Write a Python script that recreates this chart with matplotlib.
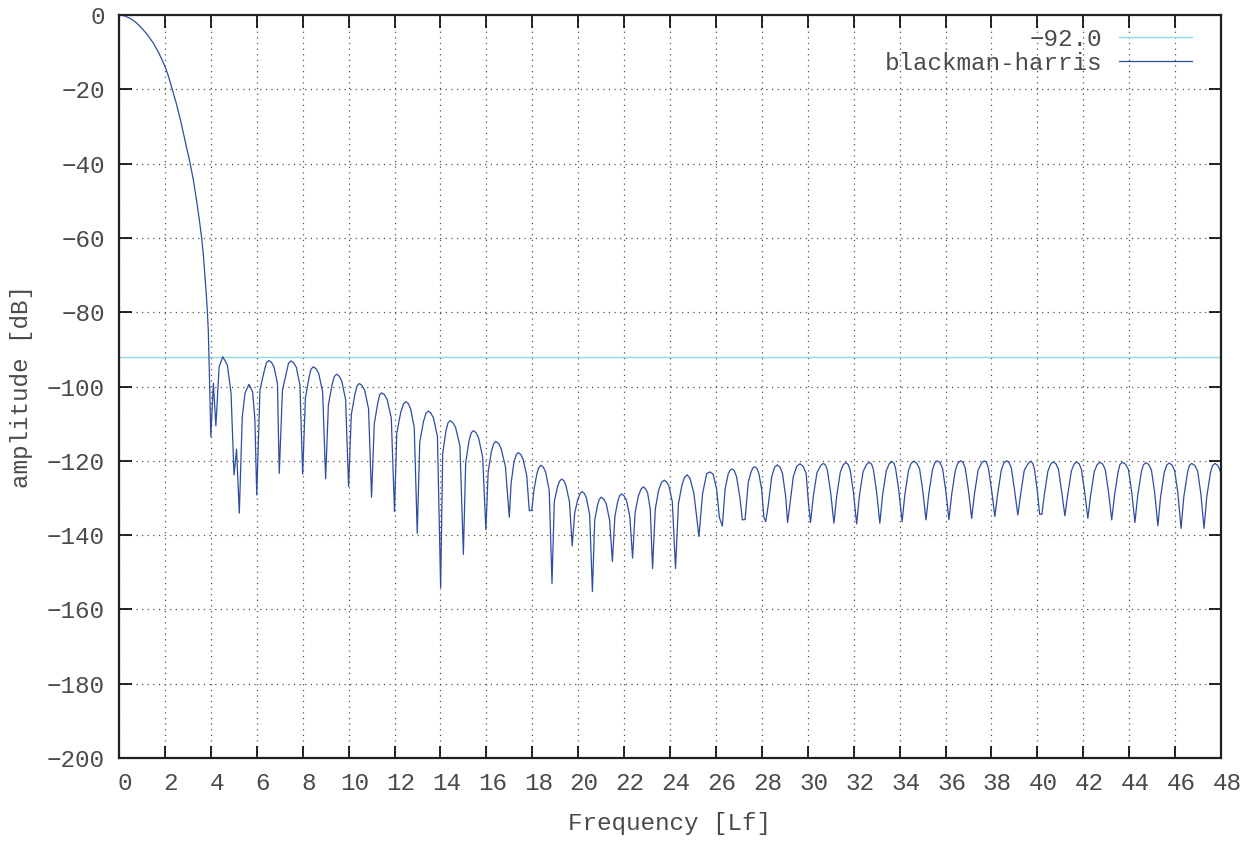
import matplotlib
matplotlib.use("Agg")
import matplotlib.pyplot as plt
import matplotlib.transforms as mtransforms

# values (frequency in Lf, amplitude in dB)
threshold_db = -92.0

main_lobe = [
    (0.0, 0.0), (0.25, -0.25), (0.5, -0.95), (0.75, -2.05), (1.0, -3.6),
    (1.25, -5.4), (1.5, -7.6), (1.75, -10.4), (2.0, -13.8), (2.16, -16.6),
    (2.32, -20.0), (2.5, -23.9), (2.7, -28.9), (2.9, -34.4), (3.1, -40.0),
    (3.25, -44.8), (3.38, -50.0), (3.5, -55.2), (3.6, -60.0), (3.68, -65.0),
    (3.74, -70.0), (3.8, -75.0), (3.85, -80.0), (3.89, -85.0), (3.92, -92.0),
    (3.95, -100.0), (4.0, -113.5),
]

sidelobes = [
    (4.11, -99.1), (4.22, -110.6), (4.36, -94.7), (4.52, -92.0), (4.72, -94.2),
    (4.88, -101.8), (5.01, -123.8), (5.12, -116.9), (5.24, -134.1), (5.37, -108.1),
    (5.49, -101.8), (5.66, -99.4), (5.82, -101.4), (5.92, -109.0), (6.0, -129.2),
    (6.14, -100.9), (6.32, -96.0), (6.42, -93.6), (6.53, -93.0), (6.64, -93.5),
    (6.75, -94.7), (6.9, -99.1), (6.98, -123.4),
    (7.12, -101.0), (7.3, -96.0), (7.38, -93.8), (7.49, -93.1), (7.61, -93.6), (7.72, -94.8), (7.88, -99.5), (8.0, -123.6),
    (8.12, -103.0), (8.28, -97.5), (8.36, -95.4), (8.46, -94.7), (8.58, -95.2), (8.7, -96.5), (8.87, -101.5), (9.0, -124.8),
    (9.12, -105.0), (9.28, -99.5), (9.38, -97.3), (9.48, -96.7), (9.59, -97.2), (9.7, -98.5), (9.87, -103.5), (10.0, -126.9),
    (10.12, -107.5), (10.28, -102.0), (10.37, -99.8), (10.47, -99.2), (10.58, -99.7), (10.7, -101.0), (10.87, -106.0), (11.0, -129.8),
    (11.12, -110.0), (11.27, -104.5), (11.35, -102.3), (11.44, -101.7), (11.56, -102.2), (11.68, -103.5), (11.86, -108.5), (12.0, -133.7),
    (12.1, -112.5), (12.27, -107.0), (12.39, -104.7), (12.5, -104.1), (12.6, -104.6), (12.7, -106.0), (12.86, -111.0), (12.99, -139.5),
    (13.1, -115.0), (13.26, -109.5), (13.37, -107.2), (13.47, -106.6), (13.58, -107.1), (13.7, -108.5), (13.87, -113.5), (14.01, -154.1),
    (14.1, -118.0), (14.24, -112.0), (14.33, -109.8), (14.42, -109.2), (14.54, -109.7), (14.66, -111.0), (14.85, -116.0), (15.0, -145.2),
    (15.1, -120.5), (15.25, -114.5), (15.34, -112.5), (15.43, -111.9), (15.55, -112.4), (15.66, -113.8), (15.84, -119.0), (15.98, -138.6),
    (16.08, -123.0), (16.22, -117.5), (16.32, -115.4), (16.41, -114.8), (16.53, -115.3), (16.64, -116.6), (16.83, -121.5), (17.0, -135.2),
    (17.08, -126.0), (17.2, -120.5), (17.3, -118.4), (17.39, -117.8), (17.5, -118.3), (17.6, -119.6), (17.76, -124.0), (17.87, -133.4), (17.98, -133.4),
    (18.07, -128.0), (18.2, -123.5), (18.29, -121.8), (18.38, -121.2), (18.48, -121.7), (18.58, -123.0), (18.74, -128.0), (18.86, -153.0),
    (18.96, -131.0), (19.1, -127.0), (19.19, -125.5), (19.28, -124.9), (19.38, -125.4), (19.47, -126.7), (19.62, -131.0), (19.74, -142.9),
    (19.85, -134.0), (19.98, -130.5), (20.08, -128.9), (20.17, -128.3), (20.27, -128.8), (20.36, -130.0), (20.5, -134.5), (20.62, -155.2),
    (20.72, -136.0), (20.84, -132.0), (20.92, -130.4), (21.0, -129.8), (21.11, -130.3), (21.22, -131.5), (21.37, -136.0), (21.49, -147.1),
    (21.6, -135.0), (21.72, -131.0), (21.8, -129.5), (21.88, -128.9), (21.99, -129.4), (22.1, -130.5), (22.25, -135.0), (22.37, -146.2),
    (22.48, -134.0), (22.62, -129.5), (22.74, -127.6), (22.84, -127.0), (22.93, -127.5), (23.02, -128.5), (23.14, -133.0), (23.24, -149.0),
    (23.36, -133.0), (23.5, -128.0), (23.63, -125.8), (23.75, -125.2), (23.85, -125.7), (23.95, -126.7), (24.1, -131.0), (24.24, -149.0),
    (24.37, -131.5), (24.52, -126.5), (24.64, -124.4), (24.75, -123.8), (24.87, -124.7), (25.04, -128.7), (25.26, -140.4),
    (25.42, -128.8), (25.6, -123.4), (25.74, -123.0), (25.88, -123.6), (26.03, -127.6), (26.15, -135.2), (26.28, -137.6),
    (26.4, -127.6), (26.54, -123.4), (26.62, -122.5), (26.71, -122.2), (26.8, -122.7), (26.9, -124.3), (27.05, -130.1), (27.15, -135.9), (27.27, -135.8),
    (27.41, -125.8), (27.53, -123.0), (27.61, -121.9), (27.7, -121.6), (27.79, -122.1), (27.87, -123.4), (27.99, -127.6), (28.09, -135.2), (28.17, -136.4),
    (28.28, -131.9), (28.43, -124.3), (28.55, -121.8), (28.67, -121.1), (28.79, -121.7), (28.9, -123.4), (29.04, -129.7), (29.12, -136.6),
    (29.22, -131.9), (29.37, -124.3), (29.52, -121.5), (29.66, -120.8), (29.8, -121.5), (29.93, -123.4), (30.02, -130.6), (30.12, -136.6),
    (30.24, -129.7), (30.40, -123.2), (30.56, -121.3), (30.68, -120.7), (30.78, -121.2), (30.86, -122.7), (31.00, -128.7), (31.14, -136.8),
    (31.26, -129.5), (31.42, -123.0), (31.54, -121.1), (31.66, -120.5), (31.76, -121.0), (31.85, -122.5), (31.99, -128.5), (32.13, -137.0),
    (32.25, -129.4), (32.41, -122.9), (32.56, -121.0), (32.68, -120.4), (32.78, -120.9), (32.86, -122.4), (33.00, -128.4), (33.14, -136.8),
    (33.26, -129.2), (33.42, -122.7), (33.55, -120.8), (33.67, -120.2), (33.76, -120.7), (33.83, -122.2), (33.97, -128.2), (34.11, -136.4),
    (34.23, -129.1), (34.39, -122.6), (34.5, -120.7), (34.62, -120.1), (34.74, -120.6), (34.87, -122.1), (35.01, -128.1), (35.15, -135.9),
    (35.27, -129.0), (35.43, -122.5), (35.53, -120.6), (35.64, -120.0), (35.76, -120.5), (35.87, -122.0), (36.01, -128.0), (36.15, -135.8),
    (36.27, -129.0), (36.43, -122.5), (36.54, -120.6), (36.66, -120.0), (36.77, -120.5), (36.86, -122.0), (37.00, -128.0), (37.14, -135.5),
    (37.26, -129.0), (37.42, -122.5), (37.57, -120.6), (37.69, -120.0), (37.79, -120.5), (37.87, -122.0), (38.01, -128.0), (38.15, -135.0),
    (38.27, -129.0), (38.43, -122.5), (38.54, -120.6), (38.66, -120.0), (38.77, -120.5), (38.87, -122.0), (39.01, -128.0), (39.15, -134.6),
    (39.27, -129.1), (39.43, -122.6), (39.6, -120.7), (39.72, -120.1), (39.8, -120.7), (39.87, -122.1), (40.0, -128.1), (40.1, -134.4), (40.2, -134.4),
    (40.3, -129.3), (40.46, -122.8), (40.58, -120.9), (40.69, -120.3), (40.81, -120.8), (40.92, -122.3), (41.06, -128.3), (41.2, -134.8),
    (41.32, -129.3), (41.48, -122.8), (41.6, -120.9), (41.71, -120.3), (41.82, -120.8), (41.92, -122.3), (42.06, -128.3), (42.2, -135.5),
    (42.32, -129.4), (42.48, -122.9), (42.61, -121.0), (42.73, -120.4), (42.85, -120.9), (42.96, -122.4), (43.10, -128.4), (43.24, -135.9),
    (43.36, -129.4), (43.52, -122.9), (43.6, -121.0), (43.71, -120.4), (43.84, -120.9), (43.97, -122.4), (44.11, -128.4), (44.25, -136.6),
    (44.37, -129.5), (44.53, -123.0), (44.62, -121.1), (44.73, -120.5), (44.85, -121.0), (44.97, -122.5), (45.11, -128.5), (45.25, -137.5),
    (45.37, -129.6), (45.53, -123.1), (45.63, -121.2), (45.74, -120.6), (45.86, -121.1), (45.98, -122.6), (46.12, -128.6), (46.26, -138.2),
    (46.38, -129.7), (46.54, -123.2), (46.62, -121.3), (46.72, -120.7), (46.85, -121.2), (46.98, -122.7), (47.12, -128.7), (47.26, -138.2),
    (47.38, -129.7), (47.54, -123.2), (47.63, -121.3), (47.74, -120.7), (47.85, -121.2), (47.92, -122.0), (48.0, -123.4),
]

x_ticks = list(range(0, 49, 2))
y_ticks = list(range(-200, 1, 20))

freq = [p[0] for p in main_lobe + sidelobes]
amp = [p[1] for p in main_lobe + sidelobes]

plt.rcParams['font.family'] = ['Liberation Mono', 'DejaVu Sans Mono']
plt.rcParams['font.size'] = 17.5
text_col = '#4a4a4a'

fig = plt.figure(figsize=(12.53, 8.41), dpi=100)
ax = fig.add_axes([119 / 1253, 83 / 841, 1102 / 1253, 743 / 841])

ax.axhline(threshold_db, color='#8adbe6', lw=1.0, label='\u221292.0')
ax.plot(freq, amp, color='#2d4da3', lw=0.9, label='blackman-harris')

ax.set_xlim(0, 48)
ax.set_ylim(-200, 0)
ax.set_xticks(x_ticks)
ax.set_yticks(y_ticks)
ax.grid(True, color='#505050', lw=0.9, linestyle=(0, (1, 3.5)))
ax.tick_params(direction='in', length=9, width=1.2, top=True, right=True,
               labelcolor=text_col, pad=10)
for s in ax.spines.values():
    s.set_linewidth(1.6)
    s.set_color('#202020')

# gnuplot puts the x tick labels a bit right of the tick
offset = mtransforms.ScaledTranslation(6 / 100, 0, fig.dpi_scale_trans)
for lab in ax.get_xticklabels():
    lab.set_transform(lab.get_transform() + offset)

ax.set_xlabel('Frequency [Lf]', color=text_col, labelpad=12)
ax.set_ylabel('amplitude [dB]', color=text_col, labelpad=10)

leg = ax.legend(loc='upper right', bbox_to_anchor=(0.9737, 0.983), frameon=False,
                markerfirst=False, handlelength=3.0, handletextpad=0.7,
                borderpad=0, borderaxespad=0, labelspacing=0.05)
for t in leg.get_texts():
    t.set_color(text_col)

fig.savefig('out.png', dpi=100)
